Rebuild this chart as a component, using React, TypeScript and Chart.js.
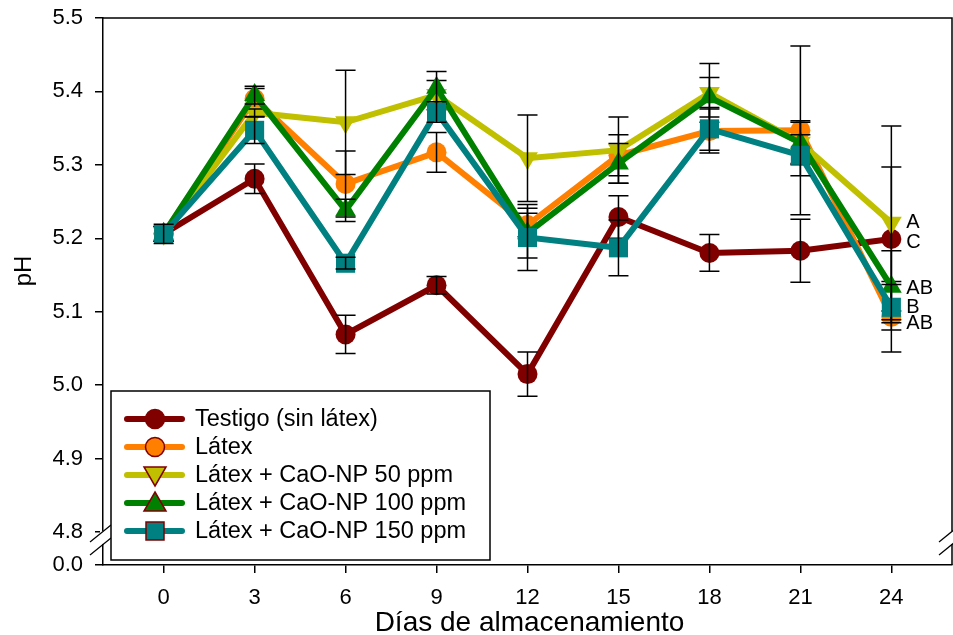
import React, { useEffect, useRef } from "react";
import { Chart, registerables } from "chart.js";

Chart.register(...registerables);

// ---------- data ----------
const days = [0, 3, 6, 9, 12, 15, 18, 21, 24];

const seriesNames = [
  "Testigo (sin látex)",
  "Látex",
  "Látex + CaO-NP 50 ppm",
  "Látex + CaO-NP 100 ppm",
  "Látex + CaO-NP 150 ppm",
];

const testigo = [5.206, 5.281, 5.069, 5.136, 5.015, 5.229, 5.18, 5.183, 5.199];
const testigoErr = [0.01, 0.02, 0.026, 0.012, 0.03, 0.029, 0.025, 0.043, 0.098];

const latex = [5.206, 5.39, 5.274, 5.317, 5.218, 5.313, 5.346, 5.347, 5.093];
const latexErr = [0.01, 0.014, 0.045, 0.027, 0.016, 0.028, 0.03, 0.115, 0.048];

const ppm50 = [5.206, 5.371, 5.358, 5.395, 5.309, 5.32, 5.398, 5.33, 5.221];
const ppm50Err = [0.01, 0.005, 0.071, 0.02, 0.059, 0.045, 0.04, 0.028, 0.132];

const ppm100 = [5.206, 5.395, 5.238, 5.405, 5.207, 5.302, 5.392, 5.33, 5.134];
const ppm100Err = [0.01, 0.012, 0.015, 0.022, 0.034, 0.027, 0.027, 0.03, 0.049];

const ppm150 = [5.206, 5.347, 5.166, 5.372, 5.201, 5.187, 5.349, 5.313, 5.106];
const ppm150Err = [0.013, 0.018, 0.008, 0.014, 0.045, 0.038, 0.029, 0.028, 0.031];

const finalLetters = ["C", "AB", "A", "AB", "B"];

const xTickValues = [0, 3, 6, 9, 12, 15, 18, 21, 24];
const yTickValues = [4.755, 4.8, 4.9, 5.0, 5.1, 5.2, 5.3, 5.4, 5.5];
const yTickLabels = ["0.0", "4.8", "4.9", "5.0", "5.1", "5.2", "5.3", "5.4", "5.5"];

const xTitle = "Días de almacenamiento";
const yTitle = "pH";

// ---------- style ----------
const FONT = "'Liberation Sans', Arial, Helvetica, sans-serif";
const colors = ["#800000", "#ff8000", "#c0c000", "#008000", "#008080"];
const markers = ["circle", "circle", "triangleDown", "triangle", "square"];
const letterOffsets = [3, 7, 0, 2, 0];

const allValues = [testigo, latex, ppm50, ppm100, ppm150];
const allErrors = [testigoErr, latexErr, ppm50Err, ppm100Err, ppm150Err];

function drawMarker(
  ctx: CanvasRenderingContext2D,
  kind: string,
  x: number,
  y: number,
  fill: string,
  stroke: string | null
) {
  ctx.beginPath();
  if (kind === "circle") {
    ctx.arc(x, y, 9.5, 0, Math.PI * 2);
  } else if (kind === "square") {
    ctx.rect(x - 9, y - 9, 18, 18);
  } else if (kind === "triangle") {
    ctx.moveTo(x, y - 11);
    ctx.lineTo(x + 11, y + 8);
    ctx.lineTo(x - 11, y + 8);
    ctx.closePath();
  } else {
    ctx.moveTo(x, y + 11);
    ctx.lineTo(x + 11, y - 8);
    ctx.lineTo(x - 11, y - 8);
    ctx.closePath();
  }
  ctx.fillStyle = fill;
  ctx.fill();
  if (stroke) {
    ctx.lineWidth = 1.5;
    ctx.strokeStyle = stroke;
    ctx.stroke();
  }
}

const errorBarPlugin = {
  id: "errorBars",
  afterDatasetDraw(chart: any, args: any) {
    const ds = chart.data.datasets[args.index];
    const errs: number[] = ds.errors;
    if (!errs) return;
    const ys = chart.scales.y;
    const ctx = chart.ctx;
    ctx.save();
    ctx.strokeStyle = "#000";
    ctx.lineWidth = 1.5;
    args.meta.data.forEach((pt: any, i: number) => {
      const v = ds.data[i].y;
      const top = ys.getPixelForValue(v + errs[i]);
      const bot = ys.getPixelForValue(v - errs[i]);
      const x = pt.x;
      ctx.beginPath();
      ctx.moveTo(x, top);
      ctx.lineTo(x, bot);
      ctx.moveTo(x - 10, top);
      ctx.lineTo(x + 10, top);
      ctx.moveTo(x - 10, bot);
      ctx.lineTo(x + 10, bot);
      ctx.stroke();
    });
    ctx.restore();
  },
};

const decorPlugin = {
  id: "decor",
  afterDraw(chart: any) {
    const ctx = chart.ctx;
    const { left, right, top, bottom } = chart.chartArea;
    const xs = chart.scales.x;
    const ys = chart.scales.y;
    ctx.save();

    // frame top & right
    ctx.strokeStyle = "#000";
    ctx.lineWidth = 1.5;
    ctx.beginPath();
    ctx.moveTo(left, top);
    ctx.lineTo(right, top);
    ctx.lineTo(right, bottom);
    ctx.stroke();

    // axis break
    const c1 = ys.getPixelForValue(4.8) - 1;
    const c2 = c1 + 13;
    [left, right].forEach((ax) => {
      ctx.fillStyle = "#fff";
      ctx.fillRect(ax - 3, c1, 6, c2 - c1);
      ctx.strokeStyle = "#000";
      ctx.lineWidth = 1.2;
      [c1, c2].forEach((c) => {
        ctx.beginPath();
        ctx.moveTo(ax - 13, c + 11);
        ctx.lineTo(ax + 8, c - 6);
        ctx.stroke();
      });
    });

    // letters at day 24
    ctx.fillStyle = "#000";
    ctx.font = `20px ${FONT}`;
    ctx.textAlign = "left";
    ctx.textBaseline = "middle";
    const lastIdx = days.length - 1;
    const lx = xs.getPixelForValue(days[lastIdx]) + 15;
    allValues.forEach((vals, si) => {
      const ly = ys.getPixelForValue(vals[lastIdx]) + letterOffsets[si];
      ctx.fillText(finalLetters[si], lx, ly);
    });

    // axis titles
    ctx.font = `28px ${FONT}`;
    ctx.textAlign = "center";
    ctx.textBaseline = "alphabetic";
    ctx.fillText(xTitle, (left + right) / 2 + 2, 631);
    ctx.save();
    ctx.translate(31, 271);
    ctx.rotate(-Math.PI / 2);
    ctx.font = `24px ${FONT}`;
    ctx.fillText(yTitle, 0, 0);
    ctx.restore();

    // legend
    const bx = 111, by = 391, bw = 379, bh = 169;
    ctx.fillStyle = "#fff";
    ctx.fillRect(bx, by, bw, bh);
    ctx.strokeStyle = "#000";
    ctx.lineWidth = 1.5;
    ctx.strokeRect(bx, by, bw, bh);
    seriesNames.forEach((name, i) => {
      const ry = 419 + i * 28;
      ctx.strokeStyle = colors[i];
      ctx.lineWidth = 6;
      ctx.lineCap = "round";
      ctx.beginPath();
      ctx.moveTo(127, ry);
      ctx.lineTo(182, ry);
      ctx.stroke();
      ctx.lineCap = "butt";
      drawMarker(ctx, markers[i], 155, ry, colors[i], "#800000");
      ctx.fillStyle = "#000";
      ctx.font = `23.5px ${FONT}`;
      ctx.textAlign = "left";
      ctx.textBaseline = "middle";
      ctx.fillText(name, 195, ry + 1);
    });

    ctx.restore();
  },
};

const pointStyles: any[] = ["circle", "circle", "triangle", "triangle", "rect"];
const pointRadii = [10, 10, 12, 12, 13.5];
const pointRotations = [0, 0, 180, 0, 0];
const orders = [5, 4, 3, 2, 1];

export default function App() {
  const canvasRef = useRef<HTMLCanvasElement | null>(null);

  useEffect(() => {
    if (!canvasRef.current) return;
    const datasets = allValues.map((vals, si) => ({
      label: seriesNames[si],
      data: days.map((d, i) => ({ x: d, y: vals[i] })),
      errors: allErrors[si],
      borderColor: colors[si],
      backgroundColor: colors[si],
      borderWidth: 6,
      borderJoinStyle: "miter" as const,
      pointStyle: pointStyles[si],
      pointRadius: pointRadii[si],
      pointRotation: pointRotations[si],
      pointBackgroundColor: colors[si],
      pointBorderColor: colors[si],
      pointBorderWidth: 0,
      tension: 0,
      order: orders[si],
      clip: false as any,
    }));

    const chart = new Chart(canvasRef.current, {
      type: "line",
      data: { datasets } as any,
      options: {
        animation: false,
        responsive: false,
        devicePixelRatio: 1,
        layout: { autoPadding: false, padding: { top: 18, right: 1, left: 0, bottom: 0 } } as any,
        plugins: {
          legend: { display: false },
          tooltip: { enabled: false },
        },
        scales: {
          x: {
            type: "linear",
            min: -2,
            max: 26,
            afterBuildTicks: (s: any) => {
              s.ticks = xTickValues.map((v) => ({ value: v }));
            },
            afterFit: (s: any) => {
              s.height = 70;
              s.paddingLeft = 0;
              s.paddingRight = 0;
            },
            ticks: {
              color: "#000",
              font: { size: 22, family: FONT },
              padding: 12,
              maxRotation: 0,
              autoSkip: false,
              callback: (v: any) => String(v),
            },
            grid: {
              display: true,
              drawOnChartArea: false,
              drawTicks: true,
              tickLength: 8,
              color: "#000",
              lineWidth: 1.5,
            },
            border: { display: true, color: "#000", width: 1.5 },
          },
          y: {
            type: "linear",
            min: yTickValues[0],
            max: yTickValues[yTickValues.length - 1],
            afterBuildTicks: (s: any) => {
              s.ticks = yTickValues.map((v) => ({ value: v }));
            },
            afterFit: (s: any) => {
              s.width = 103;
              s.paddingTop = 0;
              s.paddingBottom = 0;
            },
            ticks: {
              color: "#000",
              font: { size: 22, family: FONT },
              padding: 12,
              autoSkip: false,
              callback: (_v: any, i: number) => yTickLabels[i],
            },
            grid: {
              display: true,
              drawOnChartArea: false,
              drawTicks: true,
              tickLength: 8,
              color: "#000",
              lineWidth: 1.5,
            },
            border: { display: true, color: "#000", width: 1.5 },
          },
        },
      },
      plugins: [errorBarPlugin, decorPlugin],
    });
    return () => chart.destroy();
  }, []);

  return (
    <div style={{ position: "absolute", left: 0, top: 0, width: 953, height: 635, background: "#fff" }}>
      <canvas ref={canvasRef} width={953} height={635} />
    </div>
  );
}
